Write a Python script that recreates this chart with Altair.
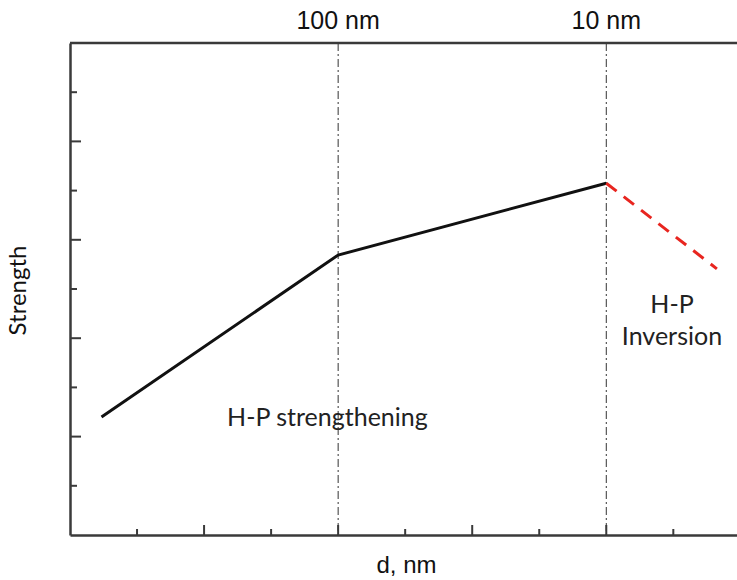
import altair as alt
import pandas as pd

# --- data ---
hp_x = [0.47, 4.0, 8.0]
hp_y = [2.40, 5.69, 7.15]
inv_x = [8.0, 9.65]
inv_y = [7.15, 5.41]
guide_x = [4.0, 8.0]
guide_labels = ["100 nm", "10 nm"]
major_ticks = [2, 4, 6, 8]
minor_ticks = [1, 3, 5, 7, 9]
note1 = ["H-P strengthening"]
note1_x = [3.84]
note1_y = [2.38]
note2 = ["H-P", "Inversion"]
note2_x = [8.98, 8.98]
note2_y = [4.67, 4.02]

W, H = 667, 492
XDOM = [0, 9.95]
YDOM = [0, 10]

xs = alt.Scale(domain=XDOM, nice=False, zero=False)
ys = alt.Scale(domain=YDOM, nice=False, zero=False)

xax = alt.Axis(title="d, nm", labels=False, ticks=False, grid=False,
               domainColor="#3a3a3a", domainWidth=2.5,
               titleFont="Liberation Sans", titleFontSize=24, titleFontWeight="normal",
               titleColor="#111", titleX=336, titleY=30, titleAlign="center",
               titleBaseline="middle", titleAnchor=None)
yax = alt.Axis(title="Strength", labels=False, ticks=False, grid=False,
               domainColor="#3a3a3a", domainWidth=2.5,
               titleFont="Lato", titleFontSize=24, titleFontWeight="normal",
               titleColor="#111", titleX=-52, titleY=247, titleAngle=270,
               titleAlign="center", titleBaseline="middle")

hp_df = pd.DataFrame({"x": hp_x, "y": hp_y})
inv_df = pd.DataFrame({"x": inv_x, "y": inv_y})
guide_df = pd.DataFrame({"x": guide_x, "label": guide_labels})
maj_df = pd.DataFrame({"v": major_ticks})
min_df = pd.DataFrame({"v": minor_ticks})
n1_df = pd.DataFrame({"x": note1_x, "y": note1_y, "t": note1})
n2_df = pd.DataFrame({"x": note2_x, "y": note2_y, "t": note2})

base_line = alt.Chart(hp_df).mark_line(color="#111", strokeWidth=3).encode(
    x=alt.X("x:Q", scale=xs, axis=xax),
    y=alt.Y("y:Q", scale=ys, axis=yax),
)

inv_line = alt.Chart(inv_df).mark_line(color="#e8251f", strokeWidth=3,
                                       strokeDash=[13, 9]).encode(
    x=alt.X("x:Q", scale=xs, axis=xax),
    y=alt.Y("y:Q", scale=ys, axis=yax),
)

guides = alt.Chart(guide_df).mark_rule(color="#333", strokeWidth=1,
                                       strokeDash=[8, 3, 2, 3]).encode(
    x=alt.X("x:Q", scale=xs, axis=xax),
    y=alt.value(0), y2=alt.value(H),
)

guide_text = alt.Chart(guide_df).mark_text(font="Liberation Sans", fontSize=25,
                                           color="#111", baseline="middle").encode(
    x=alt.X("x:Q", scale=xs, axis=xax),
    y=alt.value(-22),
    text="label:N",
)

top_border = alt.Chart(pd.DataFrame({"a": [0]})).mark_rule(
    color="#3a3a3a", strokeWidth=2.5).encode(
    x=alt.value(0), x2=alt.value(W), y=alt.value(0))

x_major = alt.Chart(maj_df).mark_rule(color="#3a3a3a", strokeWidth=2).encode(
    x=alt.X("v:Q", scale=xs, axis=xax), y=alt.value(H), y2=alt.value(H - 10))
x_minor = alt.Chart(min_df).mark_rule(color="#3a3a3a", strokeWidth=2).encode(
    x=alt.X("v:Q", scale=xs, axis=xax), y=alt.value(H), y2=alt.value(H - 6))
y_major = alt.Chart(maj_df).mark_rule(color="#3a3a3a", strokeWidth=2).encode(
    y=alt.Y("v:Q", scale=ys, axis=yax), x=alt.value(0), x2=alt.value(11))
y_minor = alt.Chart(min_df).mark_rule(color="#3a3a3a", strokeWidth=2).encode(
    y=alt.Y("v:Q", scale=ys, axis=yax), x=alt.value(0), x2=alt.value(7))

n1 = alt.Chart(n1_df).mark_text(font="Lato", fontSize=25, color="#222",
                                baseline="middle").encode(
    x=alt.X("x:Q", scale=xs, axis=xax), y=alt.Y("y:Q", scale=ys, axis=yax), text="t:N")
n2 = alt.Chart(n2_df).mark_text(font="Lato", fontSize=25, color="#222",
                                baseline="middle").encode(
    x=alt.X("x:Q", scale=xs, axis=xax), y=alt.Y("y:Q", scale=ys, axis=yax), text="t:N")

chart = alt.layer(
    guides, top_border, x_major, x_minor, y_major, y_minor,
    base_line, inv_line, guide_text, n1, n2,
).properties(
    width=W, height=H,
    autosize=alt.AutoSizeParams(type="none"),
    padding={"left": 70, "top": 43, "right": 0, "bottom": 45},
    background="white",
).configure_view(stroke=None)

chart.save("out.html", embed_options={"renderer": "svg", "actions": False})
